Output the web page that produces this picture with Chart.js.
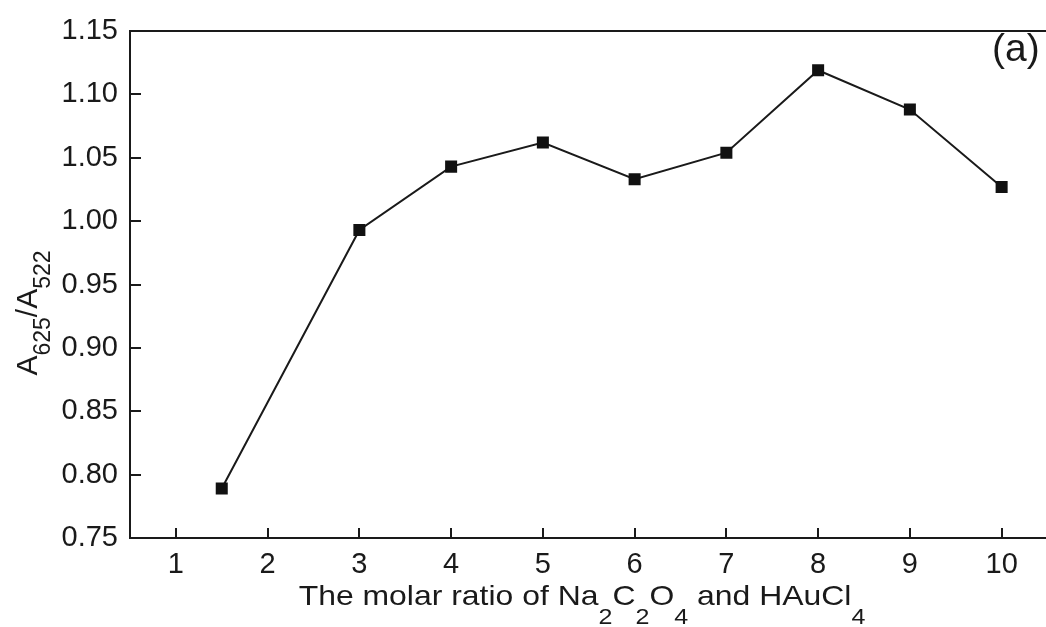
<!DOCTYPE html>
<html>
<head>
<meta charset="utf-8">
<script src="https://cdn.jsdelivr.net/npm/chart.js@4/dist/chart.umd.min.js"></script>
<style>
  html, body { margin: 0; padding: 0; background: #fff; overflow: hidden; }
  #wrap { width: 1056px; height: 627px; }
</style>
</head>
<body>
<div id="wrap"><canvas id="c" width="1056" height="627"></canvas></div>
<script>
// molar ratio (x) and absorbance ratio (y)
const ratios = [1.5, 3, 4, 5, 6, 7, 8, 9, 10];
const absRatio = [0.789, 0.993, 1.043, 1.062, 1.033, 1.054, 1.119, 1.088, 1.027];
const xTicks = [1, 2, 3, 4, 5, 6, 7, 8, 9, 10];
const yTicks = [0.75, 0.80, 0.85, 0.90, 0.95, 1.00, 1.05, 1.10, 1.15];

const FONT = '"Liberation Sans", Arial, sans-serif';

// inward tick marks + top frame line
const frameTicks = {
    id: 'frameTicks',
    afterDraw(chart) {
        const ctx = chart.ctx, a = chart.chartArea;
        const xs = chart.scales.x, ys = chart.scales.y;
        ctx.save();
        ctx.strokeStyle = '#1a1a1a';
        ctx.lineWidth = 2;
        ctx.beginPath();
        ctx.moveTo(a.left, a.top);
        ctx.lineTo(a.right, a.top);
        xTicks.forEach(v => {
            const px = Math.round(xs.getPixelForValue(v));
            ctx.moveTo(px, a.bottom);
            ctx.lineTo(px, a.bottom - 10);
        });
        yTicks.forEach(v => {
            const py = Math.round(ys.getPixelForValue(v));
            ctx.moveTo(a.left, py);
            ctx.lineTo(a.left + 11, py);
        });
        ctx.stroke();
        ctx.restore();
    }
};

// text with subscripts, centred on x
function drawSub(ctx, parts, x, y, size, subSize, subDrop) {
    let w = 0;
    parts.forEach(([t, sub]) => {
        ctx.font = (sub ? subSize : size) + 'px ' + FONT;
        w += ctx.measureText(t).width;
    });
    let cx = x - w / 2;
    parts.forEach(([t, sub]) => {
        ctx.font = (sub ? subSize : size) + 'px ' + FONT;
        ctx.fillText(t, cx, sub ? y + subDrop : y);
        cx += ctx.measureText(t).width;
    });
}

const titles = {
    id: 'titles',
    afterDraw(chart) {
        const ctx = chart.ctx;
        ctx.save();
        ctx.fillStyle = '#1a1a1a';
        ctx.textBaseline = 'alphabetic';
        // x title (source is slightly stretched horizontally)
        ctx.save();
        ctx.translate(582, 605);
        ctx.scale(1.14, 1);
        drawSub(ctx, [['The molar ratio of Na', 0], ['2', 1], ['C', 0], ['2', 1], ['O', 0], ['4', 1], [' and HAuCl', 0], ['4', 1]], 0, 0, 28, 22, 19);
        ctx.restore();
        // y title
        ctx.save();
        ctx.translate(37, 313);
        ctx.rotate(-Math.PI / 2);
        drawSub(ctx, [['A', 0], ['625', 1], ['/A', 0], ['522', 1]], 0, 0, 30, 23, 13);
        ctx.restore();
        // panel label
        ctx.font = '39px ' + FONT;
        ctx.fillText('(a)', 992, 61);
        ctx.restore();
    }
};

new Chart(document.getElementById('c'), {
    type: 'scatter',
    data: {
        datasets: [{
            data: ratios.map((x, i) => ({ x: x, y: absRatio[i] })),
            showLine: true,
            borderColor: '#1a1a1a',
            borderWidth: 2,
            backgroundColor: '#111',
            pointStyle: 'rect',
            pointRadius: 8.5,
            pointHoverRadius: 8.5,
            pointBorderWidth: 0,
            tension: 0
        }]
    },
    options: {
        responsive: false,
        animation: false,
        events: [],
        layout: { padding: { top: 31, right: 6, left: 0, bottom: 0 } },
        plugins: { legend: { display: false }, tooltip: { enabled: false } },
        scales: {
            x: {
                type: 'linear',
                min: 0.5,
                max: 10.5,
                afterBuildTicks: s => { s.ticks = xTicks.map(v => ({ value: v })); },
                afterFit: s => { s.height = 89; },
                grid: { display: false, drawTicks: false },
                border: { display: true, color: '#1a1a1a', width: 2 },
                ticks: { color: '#1a1a1a', font: { family: FONT, size: 29 }, padding: 10 }
            },
            y: {
                min: 0.75,
                max: 1.15,
                afterBuildTicks: s => { s.ticks = yTicks.map(v => ({ value: v })); },
                afterFit: s => { s.width = 130; },
                grid: { display: false, drawTicks: false },
                border: { display: true, color: '#1a1a1a', width: 2 },
                ticks: {
                    color: '#1a1a1a',
                    font: { family: FONT, size: 29 },
                    padding: 12,
                    callback: v => v.toFixed(2)
                }
            }
        }
    },
    plugins: [frameTicks, titles]
});
</script>
</body>
</html>
